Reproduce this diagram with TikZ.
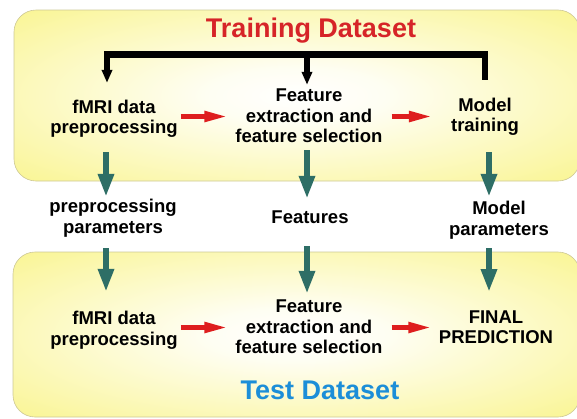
\documentclass[tikz,border=0pt]{standalone}
\usepackage{fontspec}
\setmainfont{Liberation Sans}
\usetikzlibrary{arrows.meta}
\definecolor{boxyellow}{RGB}{247,240,95}
\definecolor{boxedge}{RGB}{205,200,150}
\definecolor{titlered}{RGB}{214,36,40}
\definecolor{testblue}{RGB}{28,142,216}
\definecolor{tealarrow}{RGB}{46,110,102}
\definecolor{redarrow}{RGB}{222,30,30}
\pgfdeclareradialshading{yellowglow}{\pgfpoint{0bp}{0bp}}{color(0bp)=(white); color(8bp)=(white!92!boxyellow); color(30bp)=(white!45!boxyellow); color(50bp)=(boxyellow); color(75bp)=(boxyellow)}
\tikzset{
  panel/.style={rounded corners=22pt, shading=yellowglow, draw=boxedge, line width=0.6pt},
  label/.style={font=\bfseries\fontsize{18.5}{20.5}\selectfont, align=center, inner sep=0pt, text=black},
  heading/.style={font=\bfseries\fontsize{27}{30}\selectfont, inner sep=0pt},
  tealarr/.style={draw=tealarrow, line width=6pt, -{Triangle[length=23pt,width=15pt]}},
  redarr/.style={draw=redarrow, line width=5pt, -{Triangle[length=24pt,width=10pt]}},
  blkarr/.style={draw=black, line width=5.5pt, -{Triangle[length=13pt,width=10pt]}},
  blkline/.style={draw=black, line width=5.5pt},
  barline/.style={draw=black, line width=6.5pt, line cap=rect}
}
\begin{document}
\begin{tikzpicture}[x=1pt,y=-1pt]
\useasboundingbox (0,0) rectangle (577,418);
% panels
\path[panel] (14,10) rectangle (580,181);
\path[panel] (13,252) rectangle (580,417);
% headings
\node[heading, text=titlered] (title) at (311,31) {Training Dataset};
\node[heading, text=testblue] (test) at (320,390) {Test Dataset};
% top row
\node[label] (tr1) at (114,119) {fMRI data\\preprocessing};
\node[label] (tr2) at (309,116) {Feature\\extraction and\\feature selection};
\node[label] (tr3) at (485,117) {Model\\training};
% middle row
\node[label] (m1) at (113,218) {preprocessing\\parameters};
\node[label] (m2) at (310,217) {Features};
\node[label] (m3) at (499,220) {Model\\parameters};
% bottom row
\node[label] (b1) at (114,330) {fMRI data\\preprocessing};
\node[label] (b2) at (309,327) {Feature\\extraction and\\feature selection};
\node[label] (b3) at (496,327) {FINAL\\PREDICTION};
% column / row helpers
\coordinate (c1) at (106,0);
\coordinate (c2) at (307,0);
\coordinate (c3) at (489,0);
\coordinate (rt) at (0,116.5);
\coordinate (rb) at (0,327.5);
% black bracket
\coordinate (bl) at (107,54.5);
\coordinate (bm) at (307,54.5);
\coordinate (br) at (485,54.5);
\draw[barline] (bl) -- (br);
\draw[blkarr, shorten >=17pt] (bl) -- (tr1.north -| bl);
\draw[blkarr, shorten >=4pt] (bm) -- (tr2.north -| bm);
\draw[blkline, shorten >=18pt] (br) -- (tr3.north -| br);
% red arrows
\draw[redarr, shorten <=3pt, shorten >=7pt] (tr1.east |- rt) -- (tr2.west |- rt);
\draw[redarr, shorten <=9pt, shorten >=18pt] (tr2.east |- rt) -- (tr3.west |- rt);
\draw[redarr, shorten <=3pt, shorten >=7pt] (b1.east |- rb) -- (b2.west |- rb);
\draw[redarr, shorten <=9pt, shorten >=6.5pt] (b2.east |- rb) -- (b3.west |- rb);
% teal arrows, upper
\draw[tealarr, shorten <=14pt, shorten >=2pt] (tr1.south -| c1) -- (m1.north -| c1);
\draw[tealarr, shorten <=7pt, shorten >=11.5pt] (tr2.south -| c2) -- (m2.north -| c2);
\draw[tealarr, shorten <=16pt, shorten >=4pt] (tr3.south -| c3) -- (m3.north -| c3);
% teal arrows, lower
\draw[tealarr, shorten <=11pt, shorten >=19pt] (m1.south -| c1) -- (b1.north -| c1);
\draw[tealarr, shorten <=22.5pt, shorten >=6pt] (m2.south -| c2) -- (b2.north -| c2);
\draw[tealarr, shorten <=9pt, shorten >=18pt] (m3.south -| c3) -- (b3.north -| c3);
\end{tikzpicture}
\end{document}
